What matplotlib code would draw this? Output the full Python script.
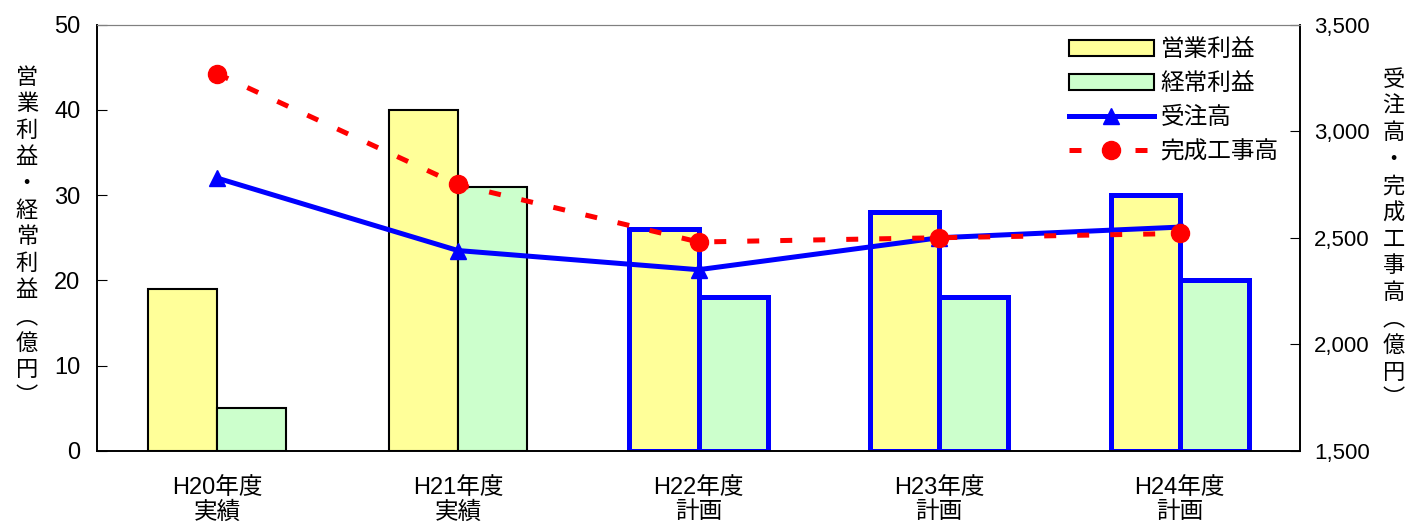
import numpy as np
import matplotlib
matplotlib.use('Agg')
import matplotlib.pyplot as plt
from matplotlib.ticker import FuncFormatter

plt.rcParams['font.family'] = ['Liberation Sans', 'Noto Sans CJK JP']

# データ
years = ['H20年度\n実績', 'H21年度\n実績', 'H22年度\n計画', 'H23年度\n計画', 'H24年度\n計画']
eigyo = [19, 40, 26, 28, 30]          # 営業利益
keijo = [5, 31, 18, 18, 20]           # 経常利益
juchu = [2780, 2440, 2350, 2500, 2550]    # 受注高
kansei = [3270, 2750, 2480, 2500, 2520]   # 完成工事高
plan = [False, False, True, True, True]

x = np.arange(len(years))
w = 0.287

fig = plt.figure(figsize=(14.12, 5.26), dpi=100)
ax = fig.add_axes([0.0687, 0.143, 0.852, 0.81])
ax2 = ax.twinx()

for i in x:
    ec = 'blue' if plan[i] else 'black'
    lw = 3.6 if plan[i] else 1.5
    ax.bar(i - w/2, eigyo[i], w, color='#ffff99', edgecolor=ec, linewidth=lw,
           label='営業利益' if i == 0 else None)
    ax.bar(i + w/2, keijo[i], w, color='#ccffcc', edgecolor=ec, linewidth=lw,
           label='経常利益' if i == 0 else None)

ax2.plot(x, juchu, color='blue', lw=3.6, marker='^', ms=11, label='受注高')
ax2.plot(x, kansei, color='red', lw=3.6, ls=(0, (2.4, 4.2)), marker='o', ms=13,
         label='完成工事高')

ax.set_xlim(-0.5, 4.5)
ax.set_ylim(0, 50)
ax.set_yticks(range(0, 51, 10))
ax2.set_ylim(1500, 3500)
ax2.set_yticks(range(1500, 3501, 500))
ax2.yaxis.set_major_formatter(FuncFormatter(lambda v, p: f'{int(v):,}'))

ax.set_xticks(x)
ax.set_xticklabels(years, fontsize=17, linespacing=1.12)
ax.tick_params(axis='x', length=0, pad=19)
ax.tick_params(axis='y', direction='in', length=7, labelsize=17, pad=12)
ax2.tick_params(axis='y', direction='in', length=7, labelsize=16, pad=10)
for a in (ax, ax2):
    a.spines['top'].set_color('#808080')
    for s in ('left', 'right', 'bottom'):
        a.spines[s].set_linewidth(1.2)

fig.text(0.019, 0.55, '\n'.join('営業利益・経常利益︵億円︶'), fontsize=16,
         ha='center', va='center', linespacing=1.2,
         family=['Noto Sans CJK JP'])
fig.text(0.987, 0.545, '\n'.join('受注高・完成工事高︵億円︶'), fontsize=16,
         ha='center', va='center', linespacing=1.2,
         family=['Noto Sans CJK JP'])

h1, l1 = ax.get_legend_handles_labels()
h2, l2 = ax2.get_legend_handles_labels()
ax2.legend(h1 + h2, l1 + l2, loc='upper right', frameon=False, fontsize=17,
           handlelength=3.6, borderaxespad=0.4, labelspacing=0.5,
           handletextpad=0.3, bbox_to_anchor=(0.998, 1.01))

fig.savefig('out.png', dpi=100)
